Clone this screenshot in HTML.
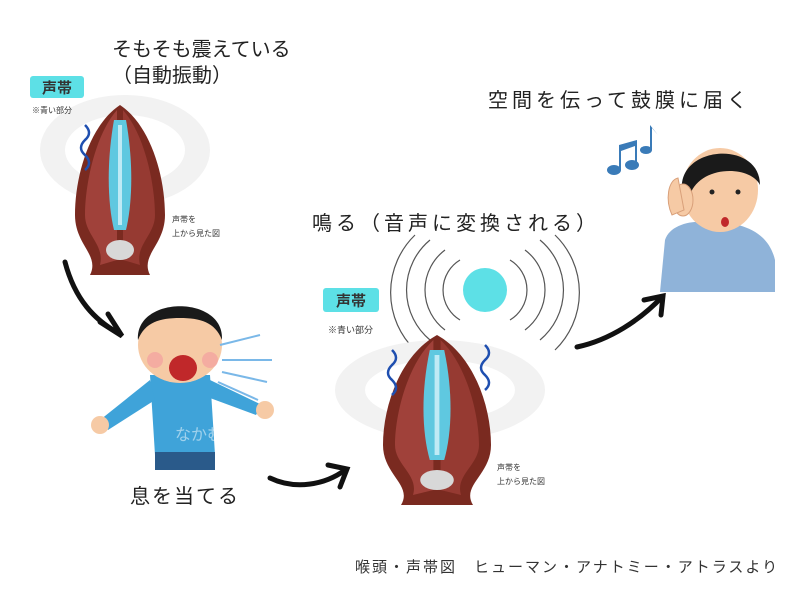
<!DOCTYPE html>
<html><head><meta charset="utf-8"><style>
html,body{margin:0;padding:0;background:#fff;width:800px;height:600px;overflow:hidden}
svg{display:block}
text{font-family:"Liberation Sans","Noto Sans CJK JP",sans-serif}
</style></head><body>
<svg width="800" height="600" viewBox="0 0 800 600" xmlns="http://www.w3.org/2000/svg">
<defs>
<g id="lar">
  <path d="M0,0 C-30,20 -45,70 -45,110 C-45,140 -20,150 -30,170 L30,170 C20,150 45,140 45,110 C45,70 30,20 0,0Z" fill="#7a2a20"/>
  <path d="M-3,5 C-25,30 -35,80 -35,110 C-35,130 -15,140 -20,160 L-3,155Z" fill="#a0413a"/>
  <path d="M3,5 C25,30 35,80 35,110 C35,130 15,140 20,160 L3,155Z" fill="#963a32"/>
  <path d="M-6,15 C-14,60 -12,100 -6,125 L6,125 C12,100 14,60 6,15Z" fill="#5fc8e0"/>
  <path d="M-2,20 L-2,120 L2,120 L2,20Z" fill="#bfeaf5"/>
  <ellipse cx="0" cy="145" rx="14" ry="10" fill="#d8d8d8"/>
</g>
</defs>
<ellipse cx="125" cy="150" rx="85" ry="55" fill="#f2f2f2"/>
<ellipse cx="125" cy="150" rx="60" ry="35" fill="#fff"/>
<use href="#lar" x="120" y="105"/>
<path d="M85,125 q8,8 0,15 q-8,8 0,15 q8,8 0,15" stroke="#1f4fb0" stroke-width="2.5" fill="none"/>
<rect x="30" y="76" width="54" height="22" rx="3" fill="#5de0e6"/>
<text x="57" y="93" font-size="15" font-weight="bold" text-anchor="middle" fill="#333">声帯</text>
<text x="32" y="113" font-size="8" fill="#333">※青い部分</text>
<text x="112" y="56" font-size="20" fill="#222">そもそも震えている</text>
<text x="112" y="82" font-size="20" fill="#222">（自動振動）</text>
<text x="172" y="222" font-size="8" fill="#333">声帯を</text>
<text x="172" y="236" font-size="8" fill="#333">上から見た図</text>
<path d="M65,262 C75,300 95,320 118,333" stroke="#111" stroke-width="5" fill="none" stroke-linecap="round"/>
<path d="M100,322 L122,336 L108,314" stroke="#111" stroke-width="5" fill="none" stroke-linecap="round"/>
<path d="M150,375 L210,375 L215,455 L155,455Z" fill="#3fa3d9"/>
<rect x="155" y="452" width="60" height="18" fill="#2a5a8a"/>
<path d="M150,380 L100,420 L108,430 L155,400Z" fill="#3fa3d9"/>
<path d="M210,380 L262,405 L256,415 L210,398Z" fill="#3fa3d9"/>
<circle cx="100" cy="425" r="9" fill="#f6caa5"/>
<circle cx="265" cy="410" r="9" fill="#f6caa5"/>
<ellipse cx="180" cy="345" rx="42" ry="38" fill="#f6caa5"/>
<path d="M138,340 C135,295 225,295 222,340 C215,322 200,318 180,318 C160,318 145,322 138,340Z" fill="#1a1a1a"/>
<ellipse cx="183" cy="368" rx="14" ry="13" fill="#c0282a"/>
<circle cx="155" cy="360" r="8" fill="#f3a0a0" opacity=".7"/>
<circle cx="210" cy="360" r="8" fill="#f3a0a0" opacity=".7"/>
<path d="M220,345 l40,-10 M222,360 l50,0 M222,372 l45,10 M218,382 l40,18" stroke="#7ab8e8" stroke-width="2"/>
<text x="175" y="440" font-size="16" fill="#ffffff" opacity=".5">なかむら詩子ボイス</text>
<text x="130" y="503" font-size="20" letter-spacing="2" fill="#222">息を当てる</text>
<path d="M270,478 C295,490 325,485 345,470" stroke="#111" stroke-width="5" fill="none" stroke-linecap="round"/>
<path d="M328,465 L347,469 L340,487" stroke="#111" stroke-width="5" fill="none" stroke-linecap="round"/>
<text x="312" y="230" font-size="20" letter-spacing="4" fill="#222">鳴る（音声に変換される）</text>
<g fill="none" stroke="#555" stroke-width="1.2">
<path d="M460,260 a35,35 0 0 0 0,60"/><path d="M510,260 a35,35 0 0 1 0,60"/>
<path d="M445,250 a50,50 0 0 0 0,80"/><path d="M525,250 a50,50 0 0 1 0,80"/>
<path d="M430,240 a65,65 0 0 0 0,100"/><path d="M540,240 a65,65 0 0 1 0,100"/>
<path d="M415,235 a80,80 0 0 0 0,115"/><path d="M555,235 a80,80 0 0 1 0,115"/>
</g>
<circle cx="485" cy="290" r="22" fill="#5de0e6"/>
<ellipse cx="440" cy="390" rx="105" ry="50" fill="#f2f2f2"/>
<ellipse cx="440" cy="390" rx="75" ry="30" fill="#fff"/>
<use href="#lar" transform="translate(437,335) scale(1.2,1.0)"/>
<path d="M392,350 q8,8 0,15 q-8,8 0,15 q8,8 0,15" stroke="#1f4fb0" stroke-width="2.5" fill="none"/>
<path d="M485,345 q8,8 0,15 q-8,8 0,15 q8,8 0,15" stroke="#1f4fb0" stroke-width="2.5" fill="none"/>
<rect x="323" y="288" width="56" height="24" rx="3" fill="#5de0e6"/>
<text x="351" y="306" font-size="15" font-weight="bold" text-anchor="middle" fill="#333">声帯</text>
<text x="328" y="333" font-size="9" fill="#333">※青い部分</text>
<text x="497" y="470" font-size="8" fill="#333">声帯を</text>
<text x="497" y="484" font-size="8" fill="#333">上から見た図</text>
<path d="M577,347 C610,340 640,320 662,297" stroke="#111" stroke-width="5" fill="none" stroke-linecap="round"/>
<path d="M644,300 L663,296 L661,315" stroke="#111" stroke-width="5" fill="none" stroke-linecap="round"/>
<text x="488" y="107" font-size="20" letter-spacing="4" fill="#222">空間を伝って鼓膜に届く</text>
<g fill="#3a7bb8">
<ellipse cx="614" cy="170" rx="7" ry="5"/><ellipse cx="632" cy="165" rx="7" ry="5"/>
<path d="M619,170 L619,145 L637,140 L637,165 L635,165 L635,146 L621,151 L621,170Z"/>
<ellipse cx="646" cy="150" rx="6" ry="4"/><path d="M650,150 L650,125 L658,135 L652,128 L652,150Z"/>
</g>
<path d="M665,240 C670,225 690,220 710,222 C740,222 768,230 775,260 L775,292 L660,292Z" fill="#8fb3d9"/>
<ellipse cx="720" cy="190" rx="38" ry="42" fill="#f6caa5"/>
<path d="M682,190 C678,145 760,140 760,185 C750,165 700,165 690,195Z" fill="#1a1a1a"/>
<ellipse cx="683" cy="200" rx="10" ry="16" fill="#f6caa5" stroke="#d9a07a"/>
<path d="M672,215 C665,200 668,180 678,178 L684,210Z" fill="#f6caa5" stroke="#d9a07a"/>
<circle cx="712" cy="192" r="2.5" fill="#222"/><circle cx="738" cy="192" r="2.5" fill="#222"/>
<ellipse cx="725" cy="222" rx="4" ry="5" fill="#c0282a"/>
<text x="355" y="572" font-size="15" letter-spacing="2" fill="#333">喉頭・声帯図　ヒューマン・アナトミー・アトラスより</text>
</svg>
</body></html>
